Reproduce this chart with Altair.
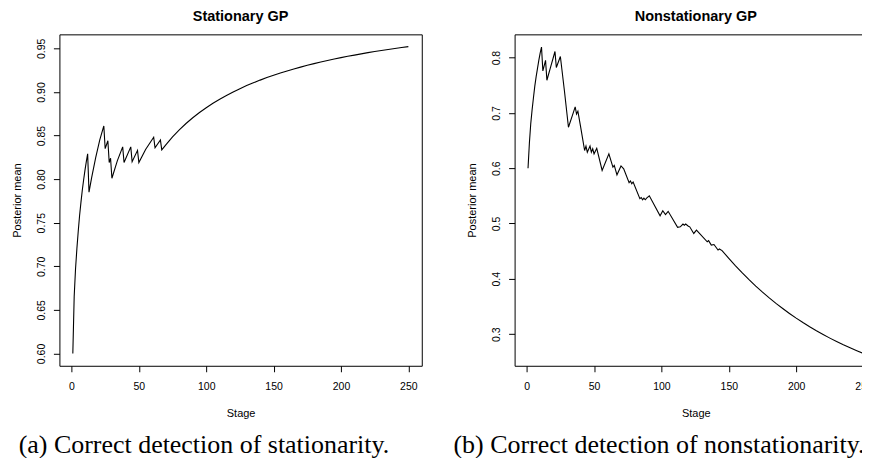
import altair as alt
import pandas as pd

# ---- data ----
stat_stage = [1, 2, 3, 4, 5, 6, 7, 8, 9, 10, 11, 12, 13, 15, 18, 21, 24, 25, 27, 28, 29, 30,
              34, 38, 39, 44, 45, 49, 50, 55, 61, 62, 66, 67,
              70, 75, 80, 85, 90, 95, 100, 105, 110, 115, 120, 125, 130, 135, 140, 145,
              150, 155, 160, 165, 170, 175, 180, 185, 190, 195, 200, 205, 210, 215, 220,
              225, 230, 235, 240, 245, 250]
stat_mean = [0.600, 0.665, 0.697, 0.720, 0.740, 0.758, 0.773, 0.787, 0.799, 0.810, 0.820, 0.829,
             0.785, 0.802, 0.825, 0.845, 0.861, 0.835, 0.844, 0.819, 0.824, 0.801,
             0.821, 0.837, 0.819, 0.837, 0.820, 0.833, 0.819, 0.834, 0.848, 0.836, 0.845, 0.8335,
             0.8394, 0.8484, 0.8565, 0.8638, 0.8704, 0.8764, 0.8819, 0.8870, 0.8917, 0.8960,
             0.9000, 0.9038, 0.9073, 0.9105, 0.9136, 0.9165, 0.9192, 0.9217, 0.9241, 0.9264,
             0.9285, 0.9306, 0.9325, 0.9343, 0.9361, 0.9378, 0.9394, 0.9409, 0.9423, 0.9437,
             0.9451, 0.9464, 0.9476, 0.9488, 0.9499, 0.9510, 0.9520]

nonstat_stage = [1, 2, 3, 4, 5, 6, 7, 8, 9, 10, 11, 12, 14, 15, 18, 21, 22, 25, 28, 31, 34, 36,
                 37, 38, 40, 43, 44, 45, 47, 48, 49, 50, 52, 56, 61, 64, 65, 67, 70, 72, 76, 77,
                 78, 79, 84, 85, 86, 87, 88, 89, 91, 99, 101, 103, 105, 112, 114, 116, 117, 118,
                 120, 121, 124, 126, 134, 135, 137, 139, 142, 143, 145,
                 150, 155, 160, 165, 170, 175, 180, 185, 190, 195, 200, 205, 210, 215, 220,
                 225, 230, 235, 240, 245, 250]
nonstat_mean = [0.600, 0.645, 0.680, 0.705, 0.727, 0.748, 0.765, 0.780, 0.795, 0.808, 0.819,
                0.776, 0.795, 0.759, 0.785, 0.811, 0.782, 0.802, 0.740, 0.674, 0.696, 0.711,
                0.698, 0.703, 0.675, 0.632, 0.640, 0.629, 0.640, 0.629, 0.635, 0.626, 0.636,
                0.596, 0.626, 0.602, 0.605, 0.588, 0.604, 0.599, 0.574, 0.577, 0.572, 0.575,
                0.545, 0.547, 0.543, 0.546, 0.543, 0.546, 0.550, 0.514, 0.523, 0.516, 0.522,
                0.493, 0.494, 0.499, 0.497, 0.499, 0.495, 0.494, 0.482, 0.488, 0.467, 0.469,
                0.461, 0.462, 0.452, 0.454, 0.451,
                0.4370, 0.4235, 0.4106, 0.3984, 0.3869, 0.3759, 0.3655, 0.3556, 0.3463, 0.3374,
                0.3289, 0.3209, 0.3133, 0.3061, 0.2993, 0.2928, 0.2866, 0.2807, 0.2752, 0.2699,
                0.2649]

x_ticks = [0, 50, 100, 150, 200, 250]
stat_y_ticks = [0.60, 0.65, 0.70, 0.75, 0.80, 0.85, 0.90, 0.95]
nonstat_y_ticks = [0.3, 0.4, 0.5, 0.6, 0.7, 0.8]

titles = ["Stationary GP", "Nonstationary GP"]
captions = ["(a) Correct detection of stationarity.", "(b) Correct detection of nonstationarity."]

SANS = "Liberation Sans"
SERIF = "Liberation Serif"


def panel(stages, means, title, ydom, yticks, yfmt):
    df = pd.DataFrame({"stage": stages, "mean": means})
    return alt.Chart(df).mark_line(color="black", strokeWidth=1.1).encode(
        x=alt.X("stage:Q",
                scale=alt.Scale(domain=[-8.96, 259.96], nice=False, zero=False),
                axis=alt.Axis(values=x_ticks, title="Stage", format="d")),
        y=alt.Y("mean:Q",
                scale=alt.Scale(domain=ydom, nice=False, zero=False),
                axis=alt.Axis(values=yticks, format=yfmt, title="Posterior mean",
                              labelAngle=-90)),
    ).properties(
        width=363, height=332,
        title=alt.TitleParams(title, font=SANS, fontSize=14.5, fontWeight="bold",
                              color="black", anchor="middle", offset=10),
    )


left = panel(stat_stage, stat_mean, titles[0], [0.5859, 0.9661], stat_y_ticks, ".2f")
right = panel(nonstat_stage, nonstat_mean, titles[1], [0.2428, 0.8420], nonstat_y_ticks, ".1f")

left_c = alt.vconcat(left, title=alt.TitleParams(captions[0], orient="bottom", anchor="middle",
                                                 font=SERIF, fontSize=26, fontWeight="normal",
                                                 color="black", offset=13, dx=-12.7))
right_c = alt.vconcat(right, title=alt.TitleParams(captions[1], orient="bottom", anchor="middle",
                                                   font=SERIF, fontSize=26, fontWeight="normal",
                                                   color="black", offset=13, dx=-12.9))

chart = alt.hconcat(left_c, right_c, spacing=30).properties(
    padding={"left": 2.5, "top": 0, "right": -16, "bottom": 0}
).configure_view(
    stroke="black", strokeWidth=1
).configure_axis(
    domain=False, grid=False, ticks=True, tickColor="black", tickSize=6, tickWidth=1,
    labelFont=SANS, labelFontSize=10.5, labelColor="black", labelPadding=10,
    titleFont=SANS, titleFontSize=11, titleFontWeight="normal", titleColor="black",
).configure_axisX(titlePadding=15).configure_axisY(titlePadding=14, labelPadding=7)

chart.save("out.html", embed_options={"renderer": "svg", "actions": False})
